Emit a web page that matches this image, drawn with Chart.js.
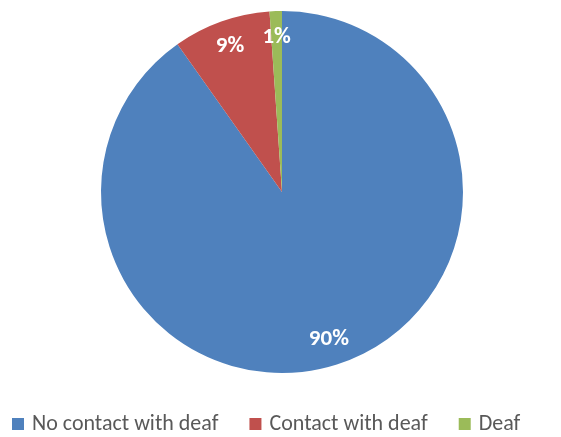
<!DOCTYPE html>
<html>
<head>
<meta charset="utf-8">
<script src="https://cdn.jsdelivr.net/npm/chart.js@4/dist/chart.umd.min.js"></script>
<style>
  html, body { margin: 0; padding: 0; background: #fff; }
  #wrap { width: 561px; height: 437px; }
</style>
</head>
<body>
<div id="wrap"><canvas id="pieChart" width="561" height="437"></canvas></div>
<script>
const labels = ['No contact with deaf', 'Contact with deaf', 'Deaf'];
const shares = [90.2, 8.7, 1.1];
const pctLabels = ['90%', '9%', '1%'];
const colors = ['#4F81BD', '#C0504D', '#9BBB59'];

// percentage labels inside the slices
const sliceLabels = {
    id: 'sliceLabels',
    afterDatasetsDraw(chart) {
        const ctx = chart.ctx;
        const arcs = chart.getDatasetMeta(0).data;
        ctx.save();
        ctx.fillStyle = '#fff';
        ctx.font = 'bold 23px Carlito, Lato, sans-serif';
        ctx.textAlign = 'center';
        ctx.textBaseline = 'middle';
        arcs.forEach((arc, i) => {
            const p = arc.getProps(['x', 'y', 'startAngle', 'endAngle', 'outerRadius']);
            const mid = (p.startAngle + p.endAngle) / 2;
            const r = p.outerRadius * 0.855;
            ctx.fillText(pctLabels[i], p.x + Math.cos(mid) * r, p.y + Math.sin(mid) * r);
        });
        ctx.restore();
    }
};

// legend row at the bottom, Excel style
const bottomLegend = {
    id: 'bottomLegend',
    afterDraw(chart) {
        const ctx = chart.ctx;
        ctx.save();
        ctx.font = '22px Carlito, Lato, sans-serif';
        ctx.textBaseline = 'middle';
        ctx.textAlign = 'left';
        let x = 12;
        const y = 424;
        labels.forEach((lab, i) => {
            ctx.fillStyle = colors[i];
            ctx.fillRect(x, y - 6, 12, 12);
            ctx.fillStyle = '#595959';
            ctx.fillText(lab, x + 20, y);
            x += 20 + ctx.measureText(lab).width + 31;
        });
        ctx.restore();
    }
};

new Chart(document.getElementById('pieChart'), {
    type: 'pie',
    data: {
        labels: labels,
        datasets: [{
            data: shares,
            backgroundColor: colors,
            borderWidth: 0
        }]
    },
    options: {
        responsive: false,
        animation: false,
        layout: { padding: { top: 11, bottom: 64, left: 3, right: 0 } },
        plugins: {
            legend: { display: false },
            tooltip: { enabled: false }
        }
    },
    plugins: [sliceLabels, bottomLegend]
});
</script>
</body>
</html>
